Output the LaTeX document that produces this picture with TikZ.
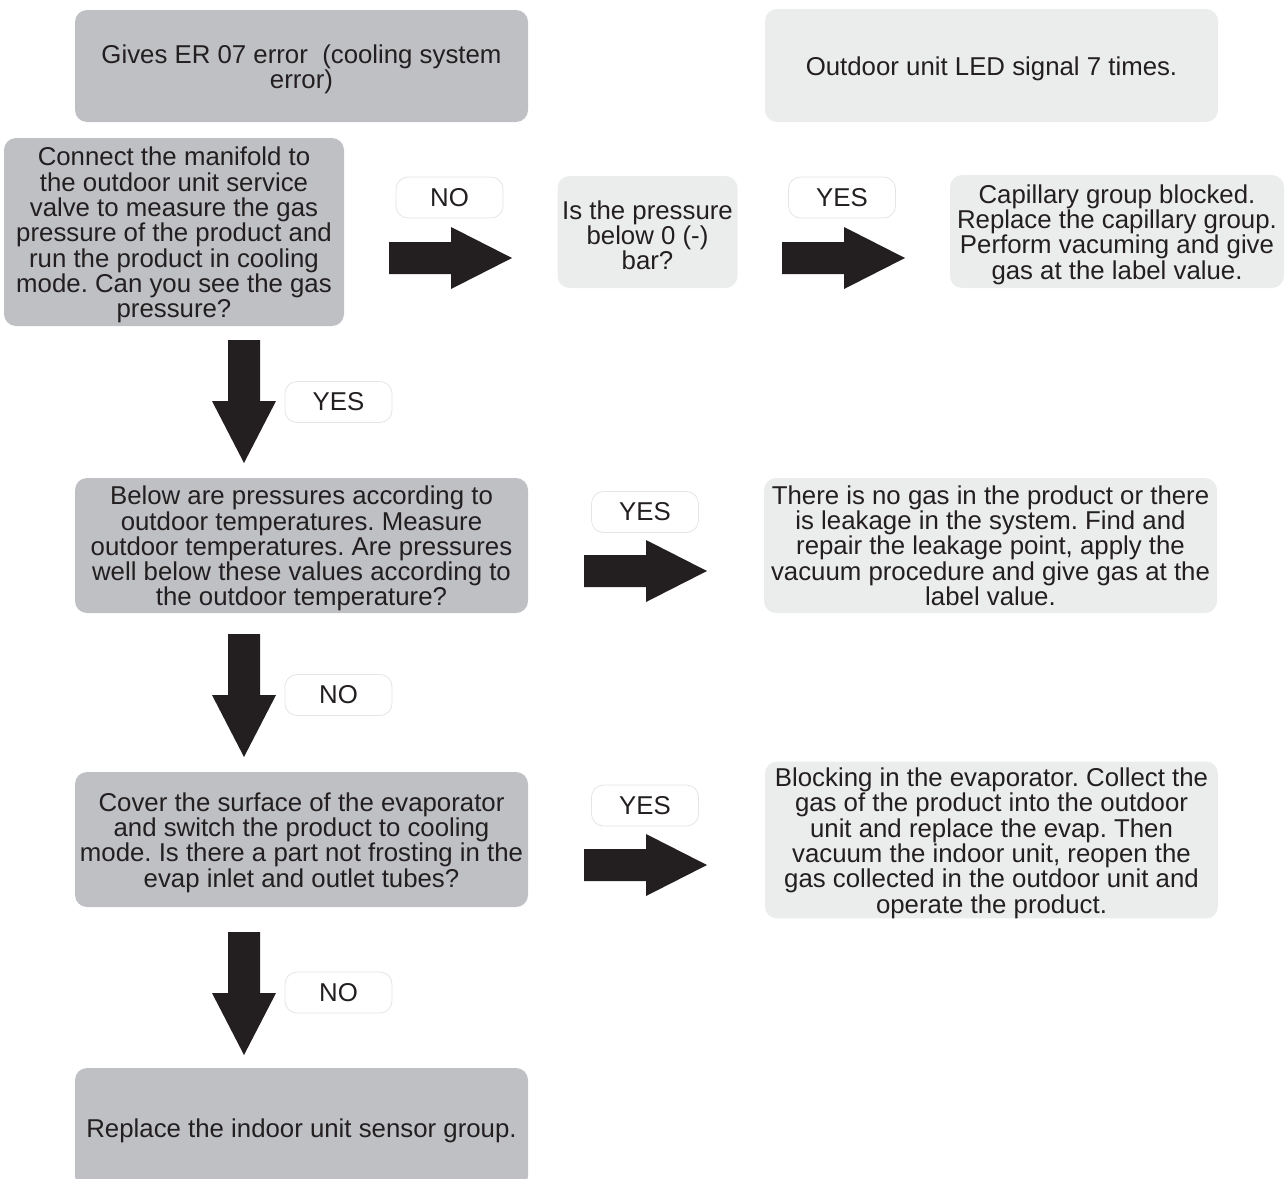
\documentclass[tikz,border=0pt]{standalone}
\usepackage{fontspec}
\setmainfont{Liberation Sans}
\frenchspacing
\definecolor{darkbox}{HTML}{BEC0C3}
\definecolor{lightbox}{HTML}{EBECEC}
\definecolor{ink}{HTML}{231F20}
\definecolor{lblborder}{HTML}{E4E5E6}
\newcommand\boxstrut{\rule{0pt}{25pt}}
\begin{document}
\begin{tikzpicture}[x=1pt,y=-1pt,
  txt/.style={font=\fontsize{25.8}{25.3}\selectfont\frenchspacing, text=ink, align=center, inner sep=0pt},
  dbox/.style={txt, fill=darkbox, rounded corners=12pt},
  lbox/.style={txt, fill=lightbox, rounded corners=12pt},
  lbl/.style={txt, draw=lblborder, line width=0.8pt, fill=white, rounded corners=12pt,
              minimum width=107pt, minimum height=41pt},
  rarrow/.pic={\fill[ink] (0,-16) -- (62,-16) -- (62,-31) -- (123,0) -- (62,31) -- (62,16) -- (0,16) -- cycle;},
  darrow/.pic={\fill[ink] (-16,0) -- (-16,61) -- (-32,61) -- (0,123) -- (32,61) -- (16,61) -- (16,0) -- cycle;}]
\useasboundingbox (0,0) rectangle (1287,1178);

% boxes
\node[dbox, minimum width=453pt, minimum height=112pt] (start) at (301.5,66)
  {\boxstrut Gives ER 07 error\ \ (cooling system\\error)};
\node[lbox, minimum width=453pt, minimum height=113pt] (led) at (991.5,65.5)
  {\boxstrut Outdoor unit LED signal 7 times.};
\node[dbox, minimum width=340pt, minimum height=188pt] (connect) at (174,232)
  {\boxstrut Connect the manifold to\\the outdoor unit service\\valve to measure the gas\\pressure of the product and\\run the product in cooling\\mode. Can you see the gas\\pressure?};
\node[lbox, minimum width=180pt, minimum height=112pt] (below) at (647.5,232)
  {\boxstrut Is the pressure\\below 0 (-)\\bar?};
\node[lbox, minimum width=334pt, minimum height=113pt] (capillary) at (1117,231.5)
  {\boxstrut Capillary group blocked.\\Replace the capillary group.\\Perform vacuming and give\\gas at the label value.};
\node[dbox, minimum width=453pt, minimum height=135pt] (pressures) at (301.5,545.5)
  {\boxstrut Below are pressures according to\\outdoor temperatures. Measure\\outdoor temperatures. Are pressures\\well below these values according to\\the outdoor temperature?};
\node[lbox, minimum width=453pt, minimum height=135pt] (leak) at (990.5,545.5)
  {There is no gas in the product or there\\is leakage in the system. Find and\\repair the leakage point, apply the\\vacuum procedure and give gas at the\\label value.};
\node[dbox, minimum width=453pt, minimum height=135pt] (cover) at (301.5,839.5)
  {\boxstrut Cover the surface of the evaporator\\and switch the product to cooling\\mode. Is there a part not frosting in the\\evap inlet and outlet tubes?};
\node[lbox, minimum width=453pt, minimum height=154pt] (evap) at (991.5,840)
  {\boxstrut Blocking in the evaporator. Collect the\\gas of the product into the outdoor\\unit and replace the evap. Then\\vacuum the indoor unit, reopen the\\gas collected in the outdoor unit and\\operate the product.};
\node[dbox, minimum width=453pt, minimum height=120pt] (sensor) at (301.5,1128)
  {\boxstrut Replace the indoor unit sensor group.};

% labels
\node[lbl] (l1) at (449.5,197.5) {NO};
\node[lbl] (l2) at (842,197.5) {YES};
\node[lbl] (l3) at (338.5,402) {YES};
\node[lbl] (l4) at (645,512) {YES};
\node[lbl] (l5) at (338.5,695) {NO};
\node[lbl] (l6) at (645,805.5) {YES};
\node[lbl] (l7) at (338.5,992.5) {NO};

% block arrows
\pic at (389,258) {rarrow};
\pic at (782,258) {rarrow};
\pic at (584,571) {rarrow};
\pic at (584,865) {rarrow};
\pic at (244,340) {darrow};
\pic at (244,634) {darrow};
\pic at (244,932) {darrow};
\end{tikzpicture}
\end{document}
